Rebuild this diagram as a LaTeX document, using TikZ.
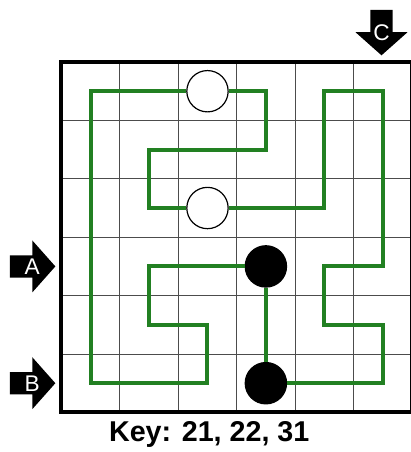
\documentclass[tikz,border=0pt]{standalone}
\usepackage{fontspec}
\setmainfont{Liberation Sans}

\definecolor{routegreen}{RGB}{34,128,34}

\begin{document}
\begin{tikzpicture}[
    x=43.8pt, y=-43.8pt,
    stone/.style={circle, draw, line width=0.9pt, minimum size=31pt, inner sep=0pt},
    wstone/.style={stone, fill=white},
    bstone/.style={stone, fill=black},
    entrytext/.style={text=white, font=\fontsize{17}{17}\selectfont, inner sep=0pt},
    route/.style={draw=routegreen, line width=3pt},
    cell/.style={black!70, line width=0.75pt}
  ]
    \useasboundingbox (-1.053,-1.062) rectangle (5.985,6.678);
    % grid
    \foreach \i in {1,...,5} {
      \draw[cell] (\i,0) -- (\i,6);
      \draw[cell] (0,\i) -- (6,\i);
    }
    \draw[line width=3pt] (0,0) rectangle (6,6);
    % stones
    \node[wstone] (w1) at (2.5,0.5) {};
    \node[wstone] (w2) at (2.5,2.5) {};
    \node[bstone] (b1) at (3.5,3.5) {};
    \node[bstone] (b2) at (3.5,5.5) {};
    % loop through the stones
    \draw[route] (w1) -| (0.5,5.5) -| (2.5,4.5) -| (1.5,3.5) -- (b1);
    \draw[route] (b1) -- (b2);
    \draw[route] (b2) -| (5.5,4.5) -| (4.5,3.5) -| (5.5,0.5) -| (4.5,2.5) -- (w2);
    \draw[route] (w2) -| (1.5,1.5) -| (3.5,0.5) -- (w1);
    % entries
    \foreach \lbl/\pos/\ang in {A/{(-0.5,3.5)}/0, B/{(-0.5,5.5)}/0, C/{(5.48,-0.51)}/-90} {
      \fill[shift={\pos}, rotate=\ang] (-0.385,-0.19) -- (0,-0.19) -- (0,-0.445) -- (0.395,0)
        -- (0,0.445) -- (0,0.19) -- (-0.385,0.19) -- cycle;
      \node[entrytext] (arr\lbl) at \pos {\lbl};
    }
    \node[font=\bfseries\fontsize{21.5}{21.5}\selectfont, anchor=base] (key) at (2.53,6.49) {Key: 21, 22, 31};
  \end{tikzpicture}
\end{document}
